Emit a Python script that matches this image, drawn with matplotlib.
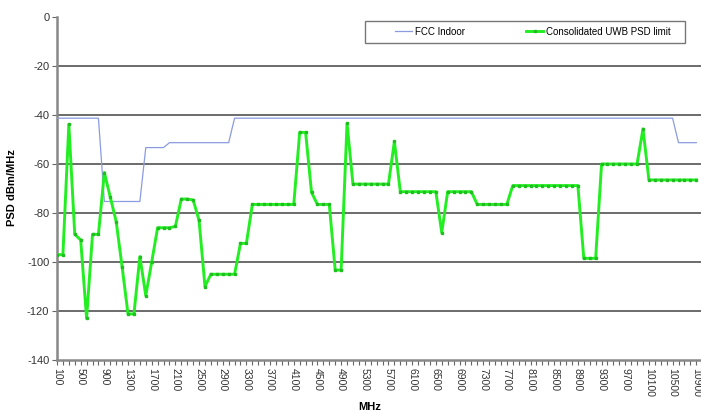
import matplotlib
matplotlib.use("Agg")
import matplotlib.pyplot as plt
from matplotlib.patches import Rectangle

plt.rcParams['font.family'] = ['Liberation Sans', 'DejaVu Sans']

# Categories (MHz), one per 100 MHz
freqs = list(range(100, 11000, 100))

fcc_indoor = [
    -41.3, -41.3, -41.3, -41.3, -41.3, -41.3, -41.3, -41.3,
    -75.3, -75.3, -75.3, -75.3, -75.3, -75.3, -75.3,
    -53.3, -53.3, -53.3, -53.3,
    -51.3, -51.3, -51.3, -51.3, -51.3, -51.3, -51.3, -51.3, -51.3, -51.3, -51.3,
    -41.3, -41.3, -41.3, -41.3, -41.3, -41.3, -41.3, -41.3, -41.3, -41.3,
    -41.3, -41.3, -41.3, -41.3, -41.3, -41.3, -41.3, -41.3, -41.3, -41.3,
    -41.3, -41.3, -41.3, -41.3, -41.3, -41.3, -41.3, -41.3, -41.3, -41.3,
    -41.3, -41.3, -41.3, -41.3, -41.3, -41.3, -41.3, -41.3, -41.3, -41.3,
    -41.3, -41.3, -41.3, -41.3, -41.3, -41.3, -41.3, -41.3, -41.3, -41.3,
    -41.3, -41.3, -41.3, -41.3, -41.3, -41.3, -41.3, -41.3, -41.3, -41.3,
    -41.3, -41.3, -41.3, -41.3, -41.3, -41.3, -41.3, -41.3, -41.3, -41.3,
    -41.3, -41.3, -41.3, -41.3, -41.3,
    -51.3, -51.3, -51.3, -51.3,
]

uwb_limit = [
    -97, -97, -43.8, -88.7, -91, -123, -88.7, -88.7, -63.5, -73.5,
    -83.5, -102, -121.2, -121.2, -97.8, -113.7, -100, -86, -86, -86,
    -85.5, -74.3, -74.3, -74.7, -83, -110,
    -105, -105, -105, -105, -105,
    -92.4, -92.4,
    -76.5, -76.5, -76.5, -76.5, -76.5, -76.5, -76.5, -76.5,
    -47.1, -47.1, -71.6,
    -76.5, -76.5, -76.5,
    -103.3, -103.3, -43.4,
    -68.2, -68.2, -68.2, -68.2, -68.2, -68.2, -68.2,
    -50.8,
    -71.3, -71.3, -71.3, -71.3, -71.3, -71.3, -71.3,
    -88,
    -71.3, -71.3, -71.3, -71.3, -71.3,
    -76.5, -76.5, -76.5, -76.5, -76.5, -76.5,
    -68.8, -68.8, -68.8, -68.8, -68.8, -68.8, -68.8, -68.8, -68.8, -68.8, -68.8, -68.8,
    -98.5, -98.5, -98.5,
    -60, -60, -60, -60, -60, -60, -60,
    -45.7,
    -66.5, -66.5, -66.5, -66.5, -66.5, -66.5, -66.5, -66.5, -66.5,
]

y_ticks = [0, -20, -40, -60, -80, -100, -120, -140]

W, H = 701, 416
fig = plt.figure(figsize=(W/100, H/100), dpi=100)
ax = fig.add_axes([57/W, 1-360/H, 1-57/W, (360-17)/H])

x = list(range(len(freqs)))
ax.plot(x, fcc_indoor, color='#8a9be0', lw=0.9, label='FCC Indoor', zorder=3)
ax.plot(x, uwb_limit, color='#22ee22', lw=2.1, marker='s', ms=1.5,
        mfc='#1fbf1f', mec='#1fbf1f', label='Consolidated UWB PSD limit', zorder=4)

ax.set_ylim(-140, 0)
ax.set_xlim(0, len(freqs) - 0.2)
ax.set_yticks(y_ticks)
ax.set_yticklabels([str(v) for v in y_ticks], fontsize=8, color='#333333')
for v in y_ticks[1:-1]:
    ax.axhline(v, color='#444444', lw=1.1, zorder=1)

ax.set_xticks(x)
ax.set_xticklabels([str(f) if i % 4 == 0 else '' for i, f in enumerate(freqs)],
                   rotation=270, fontsize=7.5, color='#333333')
ax.tick_params(axis='x', direction='out', length=3.5, width=0.8, color='#666666', pad=2)
ax.tick_params(axis='y', direction='out', length=3.5, width=0.8, color='#666666', pad=2)

for s in ['top', 'right']:
    ax.spines[s].set_visible(False)
for s in ['left', 'bottom']:
    ax.spines[s].set_color('#888888')
    ax.spines[s].set_linewidth(1.8)

fig.text(12/W, 1-188/H, 'PSD dBm/MHz', fontsize=8, fontweight='bold',
         rotation=90, ha='center', va='center')
fig.text(370/W, 1-407/H, 'MHz', fontsize=8, fontweight='bold', ha='center', va='center')

# legend frame (drawn as a figure rectangle)
fx0, fx1, fy0, fy1 = 365, 685, 20.7, 42.7
fig.patches.append(Rectangle((fx0/W, 1-fy1/H), (fx1-fx0)/W, (fy1-fy0)/H,
                             transform=fig.transFigure, facecolor='white',
                             edgecolor='#777777', lw=1.0, zorder=5))
leg = fig.legend(loc='center', bbox_to_anchor=((fx0+fx1)/2/W + 8/W, 1-(fy0+fy1)/2/H),
                 ncol=2, fontsize=7, frameon=False, handlelength=1.75,
                 columnspacing=6.3, handletextpad=0.3, borderpad=0)
leg.set_zorder(6)

fig.savefig('out.png', dpi=100)
